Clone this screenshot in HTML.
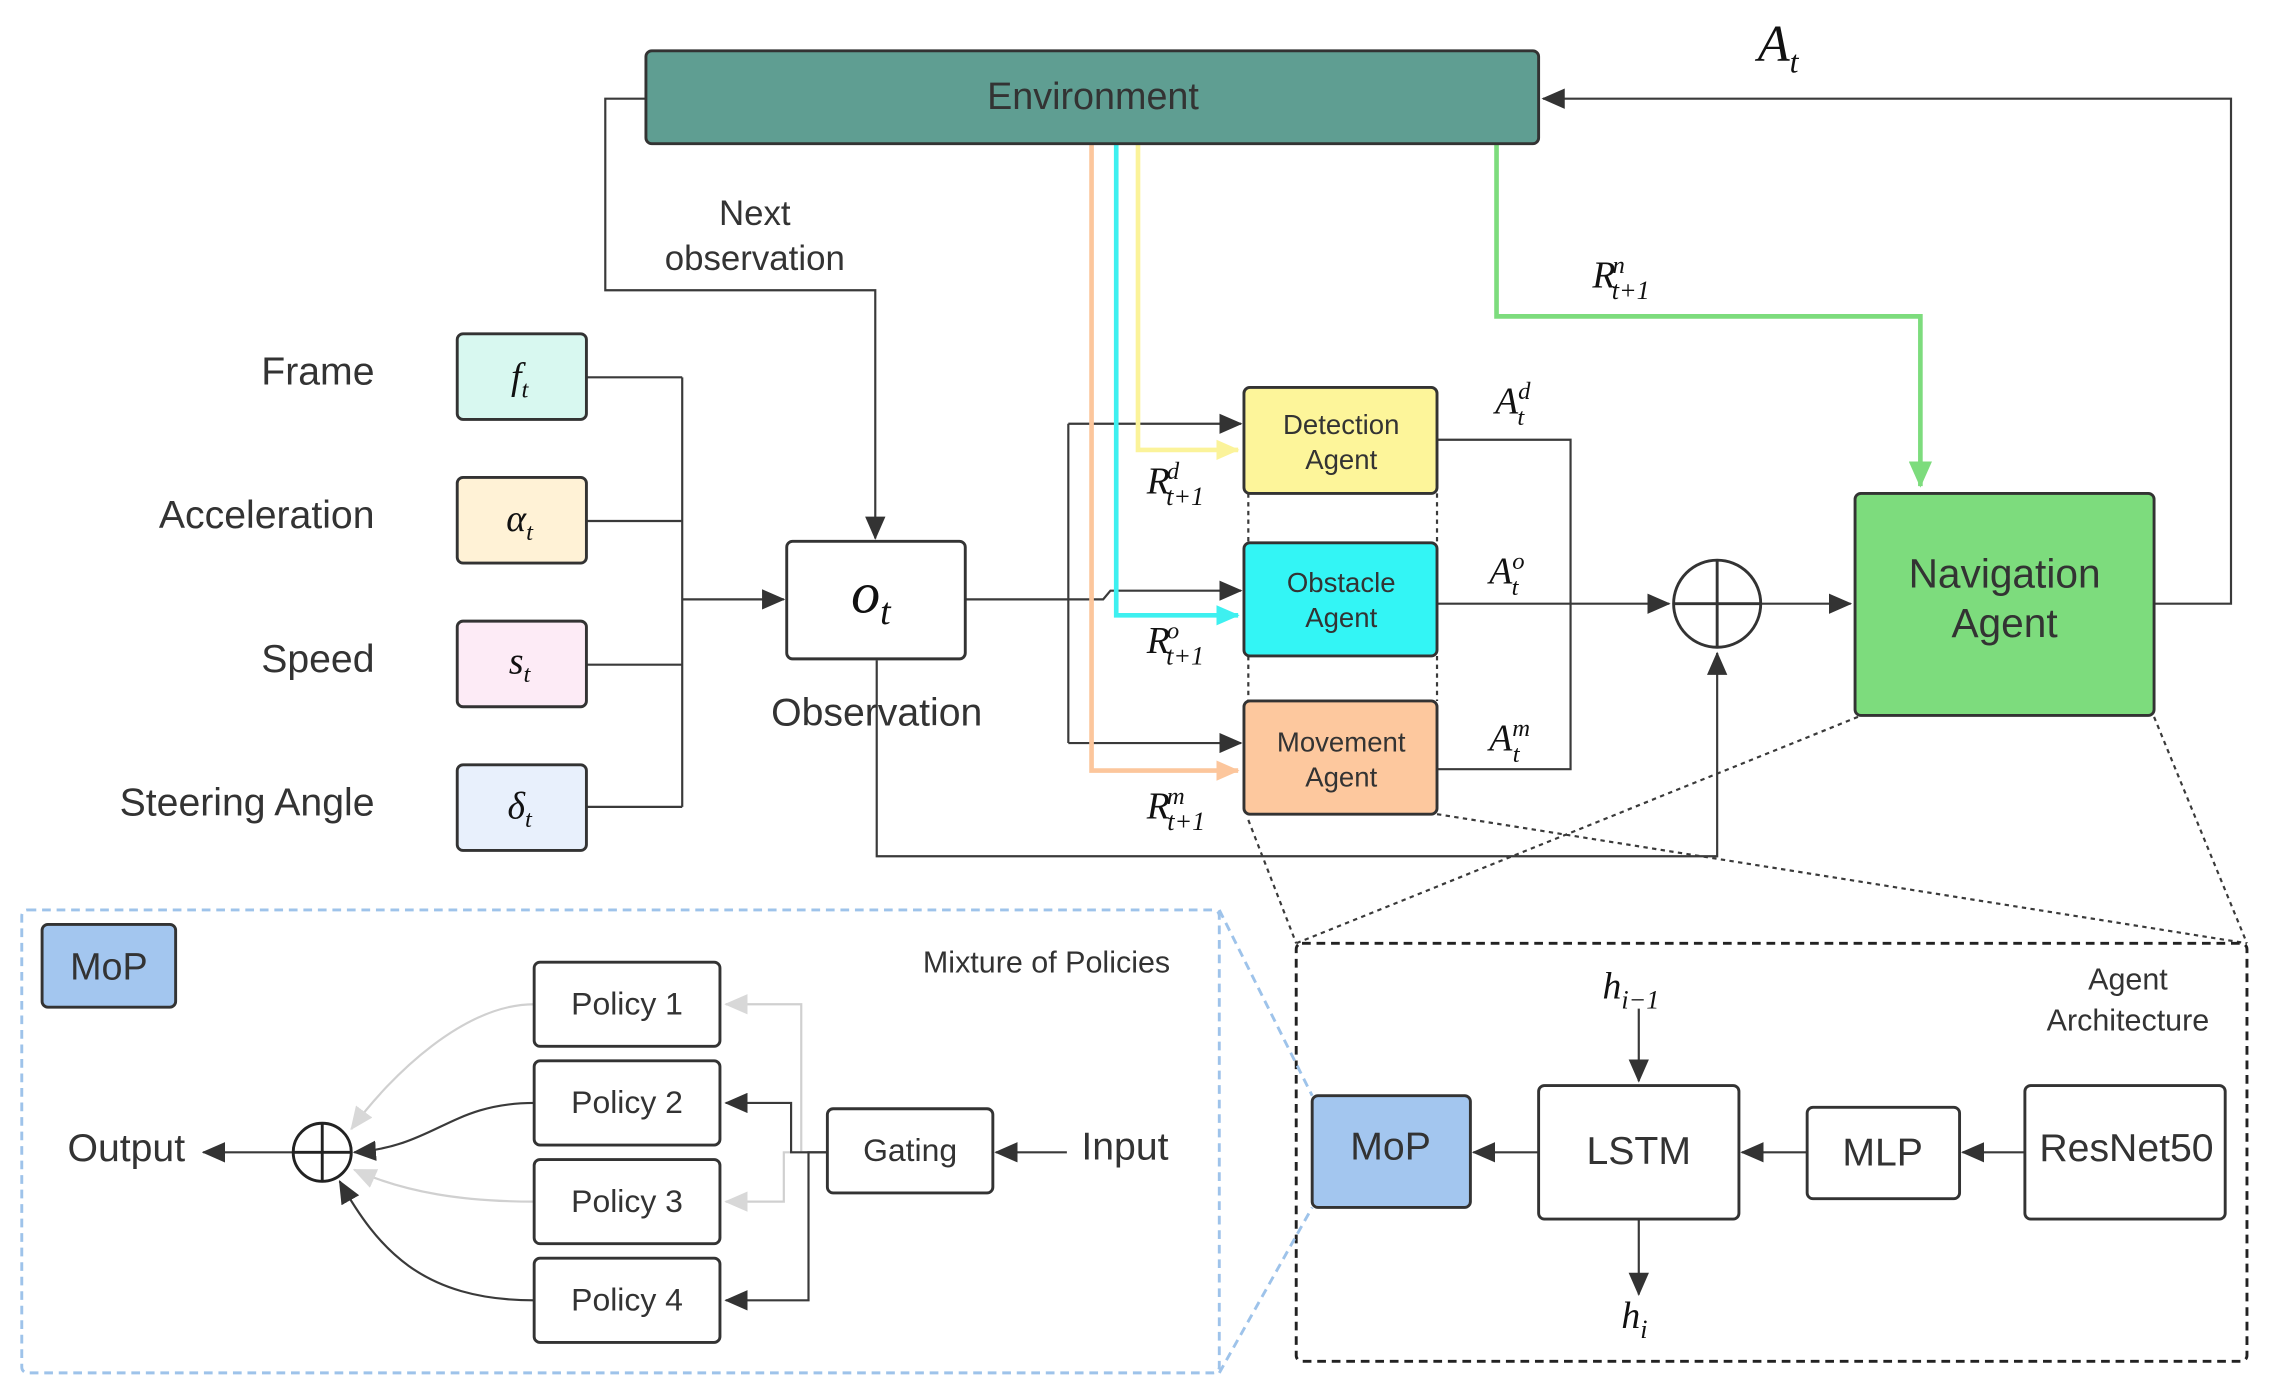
<!DOCTYPE html>
<html><head><meta charset="utf-8"><style>
html,body{margin:0;padding:0;background:#fff}
svg{display:block}
text{font-family:"Liberation Sans",sans-serif;fill:#333}
.m{font-family:"Liberation Serif",serif;font-style:italic;fill:#111}
</style></head><body>
<svg width="2276" height="1399" viewBox="0 0 1568 964" preserveAspectRatio="none" xmlns="http://www.w3.org/2000/svg">
<defs>
<marker id="a" markerWidth="16" markerHeight="14" refX="15" refY="7" orient="auto" markerUnits="userSpaceOnUse" viewBox="0 0 16 14"><path d="M0,0 L16,7 L0,14 z" fill="#333"/></marker>
<marker id="ag" markerWidth="16" markerHeight="14" refX="15" refY="7" orient="auto" markerUnits="userSpaceOnUse" viewBox="0 0 16 14"><path d="M0,0 L16,7 L0,14 z" fill="#d8d8d8"/></marker>
<marker id="ao" markerWidth="16" markerHeight="14" refX="15" refY="7" orient="auto" markerUnits="userSpaceOnUse" viewBox="0 0 16 14"><path d="M0,0 L16,7 L0,14 z" fill="#fcc69c"/></marker>
<marker id="ac" markerWidth="16" markerHeight="14" refX="15" refY="7" orient="auto" markerUnits="userSpaceOnUse" viewBox="0 0 16 14"><path d="M0,0 L16,7 L0,14 z" fill="#3ef0f0"/></marker>
<marker id="ay" markerWidth="16" markerHeight="14" refX="15" refY="7" orient="auto" markerUnits="userSpaceOnUse" viewBox="0 0 16 14"><path d="M0,0 L16,7 L0,14 z" fill="#fbf39a"/></marker>
<marker id="agr" markerWidth="18" markerHeight="16" refX="17" refY="8" orient="auto" markerUnits="userSpaceOnUse" viewBox="0 0 18 16"><path d="M0,0 L18,8 L0,16 z" fill="#7ddc7d"/></marker>
</defs>
<g fill="none" stroke="#3a3a3a" stroke-width="1.5">
<path d="M1484,416 H1537 V68 H1063" marker-end="url(#a)"/>
<path d="M445,68 H417 V200 H603 V371" marker-end="url(#a)"/>
<path d="M404,260 H470 M404,359 H470 M404,458 H470 M404,556 H470 M470,260 V556"/>
<path d="M470,413 H540" marker-end="url(#a)"/>
<path d="M665,413 H736 M736,292 V512 M736,292 H845 M736,512 H845 M736,413 H760 L765,407 H845" />
<path d="M840,292 H855" marker-end="url(#a)"/><path d="M840,407 H855" marker-end="url(#a)"/><path d="M840,512 H855" marker-end="url(#a)"/>
<path d="M990,303 H1082 V530 H990"/><path d="M990,416 H1150" marker-end="url(#a)"/>
<path d="M1213,416 H1275" marker-end="url(#a)"/>
<path d="M604,455 V590 H1183 V450" marker-end="url(#a)"/>
<path d="M860,340 V374 M990,340 V374 M860,452 V483 M990,452 V483" stroke-dasharray="3,3"/>
<path d="M1280,494 L893,650 M1484,494 L1548,650 M860,565 L893,650 M990,561 L1548,650" stroke-dasharray="3,3"/>
</g>
<g fill="none" stroke-width="3.2">
<path d="M752,99 V531 H853" stroke="#fcc69c" marker-end="url(#ao)"/>
<path d="M769,99 V424 H853" stroke="#3ef0f0" marker-end="url(#ac)"/>
<path d="M784,99 V310 H853" stroke="#fbf39a" marker-end="url(#ay)"/>
<path d="M1031,99 V218 H1323 V335" stroke="#7ddc7d" marker-end="url(#agr)"/>
</g>
<rect x="445" y="35" width="615" height="64" rx="4" fill="#5f9e92" stroke="#333" stroke-width="2"/>
<text x="753" y="75" font-size="26" text-anchor="middle">Environment</text>
<text x="1225" y="42" class="m" font-size="36" text-anchor="middle">A<tspan font-size="22" dy="8">t</tspan></text>
<text x="520" y="155" font-size="24" text-anchor="middle">Next</text>
<text x="520" y="186" font-size="24" text-anchor="middle">observation</text>
<g stroke="#333" stroke-width="2">
<rect x="315" y="230" width="89" height="59" rx="4" fill="#d8f8f0"/>
<rect x="315" y="329" width="89" height="59" rx="4" fill="#fff2d6"/>
<rect x="315" y="428" width="89" height="59" rx="4" fill="#fdebf6"/>
<rect x="315" y="527" width="89" height="59" rx="4" fill="#e8f0fc"/>
<rect x="542" y="373" width="123" height="81" rx="4" fill="#fff"/>
<rect x="857" y="267" width="133" height="73" rx="4" fill="#fdf59a"/>
<rect x="857" y="374" width="133" height="78" rx="4" fill="#33f5f5"/>
<rect x="857" y="483" width="133" height="78" rx="4" fill="#fdc89e"/>
<rect x="1278" y="340" width="206" height="153" rx="4" fill="#7ddc7d"/>
</g>
<circle cx="1183" cy="416" r="30" fill="#fff" stroke="#333" stroke-width="2"/>
<path d="M1153,416 H1213 M1183,386 V446" stroke="#333" stroke-width="2"/>
<g font-size="27" text-anchor="end"><text x="258" y="265">Frame</text><text x="258" y="364">Acceleration</text><text x="258" y="463">Speed</text><text x="258" y="562">Steering Angle</text></g>
<g class="m" font-size="26" text-anchor="middle">
<text x="358" y="268" class="m">f<tspan font-size="17" dy="6">t</tspan></text>
<text x="358" y="366" class="m">α<tspan font-size="17" dy="6">t</tspan></text>
<text x="358" y="464" class="m">s<tspan font-size="17" dy="6">t</tspan></text>
<text x="358" y="564" class="m">δ<tspan font-size="17" dy="6">t</tspan></text>
<text x="600" y="422" class="m" font-size="40">o<tspan font-size="26" dy="8">t</tspan></text>
</g>
<text x="604" y="500" font-size="27" text-anchor="middle">Observation</text>
<g font-size="19" text-anchor="middle"><text x="924" y="299">Detection</text><text x="924" y="323">Agent</text>
<text x="924" y="408">Obstacle</text><text x="924" y="432">Agent</text>
<text x="924" y="518">Movement</text><text x="924" y="542">Agent</text></g>
<g font-size="28" text-anchor="middle"><text x="1381" y="405">Navigation</text><text x="1381" y="439">Agent</text></g>
<g font-size="26">
<text x="790" y="340" class="m">R<tspan font-size="17" dy="-10" dx="-2">d</tspan><tspan font-size="18" dy="18" dx="-9">t+1</tspan></text>
<text x="790" y="450" class="m">R<tspan font-size="17" dy="-10" dx="-2">o</tspan><tspan font-size="18" dy="18" dx="-9">t+1</tspan></text>
<text x="790" y="564" class="m">R<tspan font-size="17" dy="-10" dx="-2">m</tspan><tspan font-size="18" dy="18" dx="-12">t+1</tspan></text>
<text x="1097" y="198" class="m">R<tspan font-size="17" dy="-10" dx="-2">n</tspan><tspan font-size="18" dy="18" dx="-9">t+1</tspan></text>
<text x="1030" y="285" class="m">A<tspan font-size="17" dy="-10">d</tspan><tspan font-size="17" dy="18" dx="-9">t</tspan></text>
<text x="1026" y="402" class="m">A<tspan font-size="17" dy="-10">o</tspan><tspan font-size="17" dy="18" dx="-9">t</tspan></text>
<text x="1026" y="517" class="m">A<tspan font-size="17" dy="-10">m</tspan><tspan font-size="17" dy="18" dx="-12">t</tspan></text>
</g>
<rect x="893" y="650" width="655" height="288" rx="4" fill="none" stroke="#222" stroke-width="2" stroke-dasharray="6,4"/>
<g fill="none" stroke="#3a3a3a" stroke-width="1.5">
<path d="M1395,794 H1352" marker-end="url(#a)"/><path d="M1245,794 H1200" marker-end="url(#a)"/><path d="M1060,794 H1015" marker-end="url(#a)"/>
<path d="M1129,695 V745" marker-end="url(#a)"/><path d="M1129,840 V892" marker-end="url(#a)"/>
</g>
<g stroke="#333" stroke-width="2">
<rect x="904" y="755" width="109" height="77" rx="4" fill="#a3c6ef"/>
<rect x="1060" y="748" width="138" height="92" rx="4" fill="#fff"/>
<rect x="1245" y="763" width="105" height="63" rx="4" fill="#fff"/>
<rect x="1395" y="748" width="138" height="92" rx="4" fill="#fff"/>
</g>
<g font-size="27" text-anchor="middle"><text x="958" y="799">MoP</text><text x="1129" y="802">LSTM</text><text x="1297" y="803">MLP</text><text x="1465" y="800">ResNet50</text></g>
<g font-size="21" text-anchor="middle"><text x="1466" y="682">Agent</text><text x="1466" y="710">Architecture</text></g>
<text x="1104" y="688" class="m" font-size="26">h<tspan font-size="18" dy="7">i−1</tspan></text>
<text x="1117" y="915" class="m" font-size="26">h<tspan font-size="18" dy="7">i</tspan></text>
<rect x="15" y="627" width="825" height="319" rx="4" fill="none" stroke="#9ec3ea" stroke-width="2" stroke-dasharray="6,4"/>
<path d="M840,627 L904,755 M840,946 L904,832" stroke="#9ec3ea" stroke-width="2" stroke-dasharray="6,4"/>
<rect x="29" y="637" width="92" height="57" rx="4" fill="#a3c6ef" stroke="#333" stroke-width="2"/>
<text x="75" y="675" font-size="26" text-anchor="middle">MoP</text>
<text x="721" y="670" font-size="21" text-anchor="middle">Mixture of Policies</text>
<g fill="none" stroke-width="1.5">
<path d="M735,794 H686" stroke="#3a3a3a" marker-end="url(#a)"/>
<path d="M570,794 H552 V692 H500" stroke="#d0d0d0" marker-end="url(#ag)"/>
<path d="M570,794 H540 V828 H500" stroke="#d0d0d0" marker-end="url(#ag)"/>
<path d="M570,794 H545 V760 H500" stroke="#3a3a3a" marker-end="url(#a)"/>
<path d="M570,794 H557 V896 H500" stroke="#3a3a3a" marker-end="url(#a)"/>
<path d="M368,692 C320,692 270,740 242,778" stroke="#d0d0d0" marker-end="url(#ag)"/>
<path d="M368,828 C320,828 280,822 244,806" stroke="#d0d0d0" marker-end="url(#ag)"/>
<path d="M368,760 C310,760 300,790 244,794" stroke="#3a3a3a" marker-end="url(#a)"/>
<path d="M368,896 C290,896 260,860 234,814" stroke="#3a3a3a" marker-end="url(#a)"/>
<path d="M202,794 H140" stroke="#3a3a3a" marker-end="url(#a)"/>
</g>
<circle cx="222" cy="794" r="20" fill="#fff" stroke="#222" stroke-width="2"/>
<path d="M202,794 H242 M222,774 V814" stroke="#222" stroke-width="2"/>
<g stroke="#333" stroke-width="2" fill="#fff">
<rect x="368" y="663" width="128" height="58" rx="4"/><rect x="368" y="731" width="128" height="58" rx="4"/>
<rect x="368" y="799" width="128" height="58" rx="4"/><rect x="368" y="867" width="128" height="58" rx="4"/>
<rect x="570" y="764" width="114" height="58" rx="4"/>
</g>
<g font-size="22" text-anchor="middle"><text x="432" y="699">Policy 1</text><text x="432" y="767">Policy 2</text><text x="432" y="835">Policy 3</text><text x="432" y="903">Policy 4</text><text x="627" y="800">Gating</text></g>
<text x="775" y="799" font-size="27" text-anchor="middle">Input</text>
<text x="87" y="800" font-size="27" text-anchor="middle">Output</text>
</svg>
</body></html>
